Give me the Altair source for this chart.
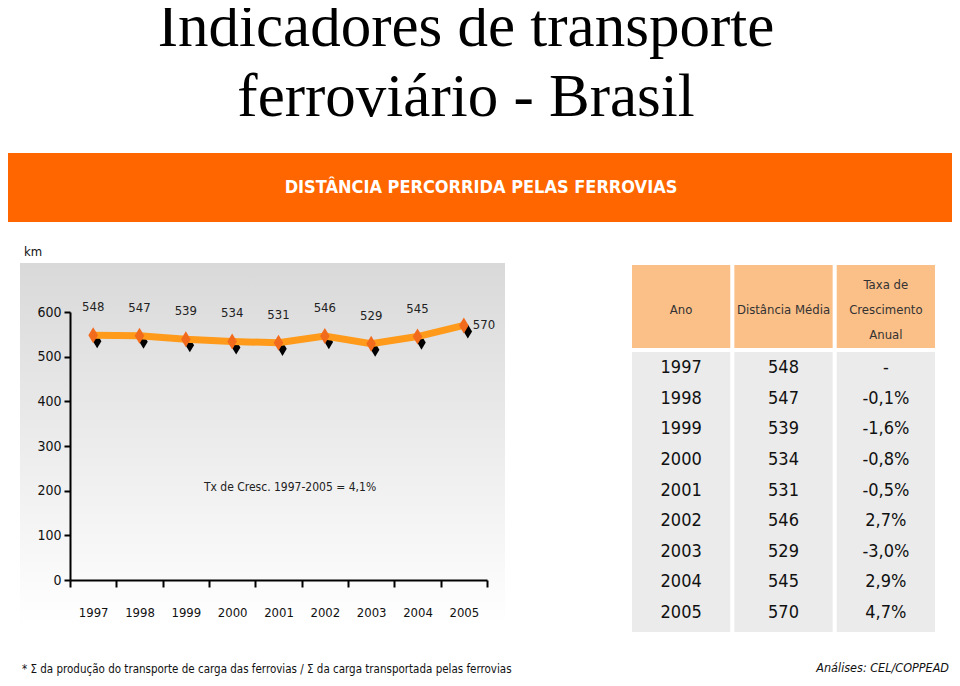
import altair as alt
import pandas as pd

# ---------------- data ----------------
TITLE_LINES = ["Indicadores de transporte", "ferroviário - Brasil"]
BANNER = "DISTÂNCIA PERCORRIDA PELAS FERROVIAS"
UNIT = "km"
NOTE = "Tx de Cresc. 1997-2005 = 4,1%"
YEARS = ["1997", "1998", "1999", "2000", "2001", "2002", "2003", "2004", "2005"]
DIST = [548, 547, 539, 534, 531, 546, 529, 545, 570]
GROWTH = ["-", "-0,1%", "-1,6%", "-0,8%", "-0,5%", "2,7%", "-3,0%", "2,9%", "4,7%"]
Y_TICKS = [0, 100, 200, 300, 400, 500, 600]
TABLE_HEADERS = ["Ano", "Distância Média", "Taxa de\nCrescimento\nAnual"]
FOOTNOTE = "* Σ da produção do transporte de carga das ferrovias / Σ da carga transportada pelas ferrovias"
SOURCE = "Análises: CEL/COPPEAD"

NARROW = "Liberation Sans Narrow, Arial Narrow, DejaVu Sans Condensed, sans-serif"
SERIF = "Liberation Serif, Times New Roman, serif"
DIAMOND = "M0,-1L0.6,0L0,1L-0.6,0Z"

def one(v):
    return pd.DataFrame({"t": [v]})

# ---------------- header ----------------
title1 = alt.Chart(one(TITLE_LINES[0])).mark_text(
    font=SERIF, fontSize=61, color="black", align="center", baseline="alphabetic"
).encode(x=alt.value(458), y=alt.value(38), text="t:N")
title2 = alt.Chart(one(TITLE_LINES[1])).mark_text(
    font=SERIF, fontSize=61, color="black", align="center", baseline="alphabetic"
).encode(x=alt.value(458), y=alt.value(108), text="t:N")

banner = alt.Chart(one(BANNER)).mark_rect(color="#FF6600").encode(
    x=alt.value(0), x2=alt.value(944), y=alt.value(145), y2=alt.value(214)
)
banner_txt = alt.Chart(one(BANNER)).mark_text(
    font=NARROW, fontSize=18, fontWeight="bold", color="white", align="center", baseline="middle"
).encode(x=alt.value(473), y=alt.value(180), text="t:N")

# ---------------- line chart ----------------
grad = alt.Gradient(
    gradient="linear",
    stops=[alt.GradientStop(color="#d9d9d9", offset=0),
           alt.GradientStop(color="#eeeeee", offset=0.55),
           alt.GradientStop(color="#ffffff", offset=1)],
    x1=0, x2=0, y1=0, y2=1,
)
bg = alt.Chart(one("bg")).mark_rect(fill=grad).encode(
    x=alt.value(12), x2=alt.value(497), y=alt.value(255), y2=alt.value(617)
)
km = alt.Chart(one(UNIT)).mark_text(
    font=NARROW, fontSize=13, color="#111", align="left", baseline="middle"
).encode(x=alt.value(16), y=alt.value(244), text="t:N")
note = alt.Chart(one(NOTE)).mark_text(
    font=NARROW, fontSize=12, color="#222", align="center", baseline="middle"
).encode(x=alt.value(282), y=alt.value(479), text="t:N")

df = pd.DataFrame({"ano": YEARS, "dist": DIST})
xs = alt.X(
    "ano:O",
    scale=alt.Scale(type="band", range=[62, 479], paddingInner=0, paddingOuter=0),
    axis=alt.Axis(offset=-98, tickBand="extent", domainColor="black", domainWidth=2,
                  tickColor="black", tickWidth=2, tickSize=7, labelFont=NARROW,
                  labelFontSize=13, labelPadding=19, labelAngle=0, labelColor="#111",
                  title=None, grid=False, zindex=1),
)
ys = alt.Y(
    "dist:Q",
    scale=alt.Scale(domain=[0, 600], range=[572, 304], nice=False, zero=True),
    axis=alt.Axis(offset=-62, values=Y_TICKS, domainColor="black", domainWidth=2,
                  tickColor="black", tickWidth=2, tickSize=6, labelFont=NARROW,
                  labelFontSize=14, labelPadding=3, labelColor="#111",
                  title=None, grid=False, zindex=1),
)
base = alt.Chart(df).encode(x=xs, y=ys)
shadow = base.mark_point(shape=DIAMOND, filled=True, size=200, color="black", opacity=1,
                         xOffset=4, yOffset=6)
line = base.mark_line(color="#FF9A1A", strokeWidth=7)
marks = base.mark_point(shape=DIAMOND, filled=True, size=256, color="#F26B1D", opacity=1)
labels = base.mark_text(font=NARROW, fontSize=13, color="#222", dy=-28).encode(
    text=alt.Text("dist:Q")
).transform_filter(alt.datum.ano != "2005")
last_label = base.mark_text(font=NARROW, fontSize=13, color="#222", align="left", dx=9).encode(
    text=alt.Text("dist:Q")
).transform_filter(alt.datum.ano == "2005")
line_chart = alt.layer(shadow, line, marks, labels, last_label)

# ---------------- table ----------------
rows = []
for i, yr in enumerate(YEARS):
    rows.append({"row": yr, "col": TABLE_HEADERS[0], "txt": yr})
    rows.append({"row": yr, "col": TABLE_HEADERS[1], "txt": str(DIST[i])})
    rows.append({"row": yr, "col": TABLE_HEADERS[2], "txt": GROWTH[i]})
tbl = pd.DataFrame(rows)
hdr = pd.DataFrame({"col": TABLE_HEADERS, "lines": [h.count("\n") + 1 for h in TABLE_HEADERS]})

tx = alt.X("col:N", sort=TABLE_HEADERS, axis=None,
           scale=alt.Scale(type="band", range=[624, 927], paddingInner=0.04, paddingOuter=0))
ty = alt.Y("row:O", sort=YEARS, axis=None,
           scale=alt.Scale(type="band", range=[345, 620], paddingInner=0, paddingOuter=0))

hdr_rect = alt.Chart(hdr).mark_rect(color="#FBBF88").encode(
    x=tx, y=alt.value(257), y2=alt.value(340))
body_rect = alt.Chart(hdr).mark_rect(color="#EBEBEB").encode(
    x=tx, y=alt.value(344), y2=alt.value(624))
hdr_txt1 = alt.Chart(hdr).mark_text(
    font=NARROW, fontSize=13, color="#333", baseline="middle"
).encode(x=tx, y=alt.value(302), text="col:N").transform_filter(alt.datum.lines == 1)
hdr_txt3 = alt.Chart(hdr).mark_text(
    font=NARROW, fontSize=13, color="#333", lineBreak="\n", lineHeight=25, baseline="middle"
).encode(x=tx, y=alt.value(277), text="col:N").transform_filter(alt.datum.lines == 3)
body_txt = alt.Chart(tbl).mark_text(
    font=NARROW, fontSize=18, color="#111", baseline="middle"
).encode(x=tx, y=ty, text="txt:N")
table = alt.layer(hdr_rect, body_rect, hdr_txt1, hdr_txt3, body_txt)

# ---------------- footer ----------------
foot = alt.Chart(one(FOOTNOTE)).mark_text(
    font=NARROW, fontSize=11.5, color="#111", align="left", baseline="bottom"
).encode(x=alt.value(14), y=alt.value(667), text="t:N")
src = alt.Chart(one(SOURCE)).mark_text(
    font=NARROW, fontSize=12.5, fontStyle="italic", color="#111", align="right", baseline="bottom"
).encode(x=alt.value(941), y=alt.value(667), text="t:N")

chart = alt.layer(
    title1, title2, banner, banner_txt, bg, km, note, line_chart, table, foot, src
).resolve_scale(x="independent", y="independent").properties(
    width=944, height=670, padding=0,
    autosize=alt.AutoSizeParams(type="none"), background="white"
).configure_view(stroke=None)

chart.save("out.html", embed_options={"renderer": "svg", "actions": False})
